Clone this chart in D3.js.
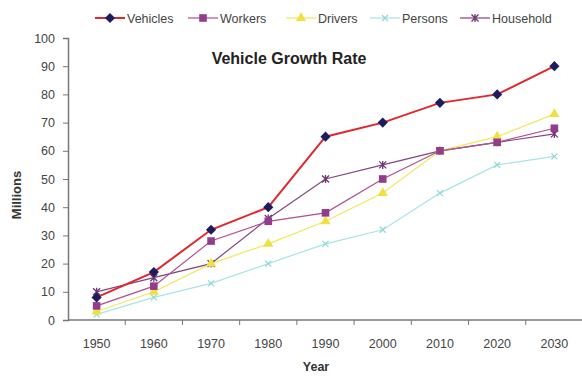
<!DOCTYPE html>
<html>
<head>
<meta charset="utf-8">
<script src="https://cdn.jsdelivr.net/npm/d3@7"></script>
<style>
  body { margin: 0; background: #fff; }
  svg text { font-family: Arial, "Liberation Sans", sans-serif; }
</style>
</head>
<body>
<svg width="582" height="376"></svg>
<script>
// data
const years = ["1950", "1960", "1970", "1980", "1990", "2000", "2010", "2020", "2030"];
const vehicles = [8, 17, 32, 40, 65, 70, 77, 80, 90];
const workers = [5, 12, 28, 35, 38, 50, 60, 63, 68];
const drivers = [3, 10, 20, 27, 35, 45, 60, 65, 73];
const persons = [2, 8, 13, 20, 27, 32, 45, 55, 58];
const household = [10, 15, 20, 36, 50, 55, 60, 63, 66];
const yTicks = [0, 10, 20, 30, 40, 50, 60, 70, 80, 90, 100];

const series = [
  {name: "Vehicles", values: vehicles, line: "#e2262e", mark: "#1c1c5e", shape: "diamond", width: 2},
  {name: "Workers", values: workers, line: "#b0508e", mark: "#943c8c", shape: "square", width: 1.2},
  {name: "Drivers", values: drivers, line: "#f2e85a", mark: "#f0e040", shape: "triangle", width: 1.2},
  {name: "Persons", values: persons, line: "#a8e4e6", mark: "#8fd6da", shape: "cross", width: 1.2},
  {name: "Household", values: household, line: "#83447e", mark: "#6e3470", shape: "star", width: 1.2}
];

const svg = d3.select("svg");
const margin = {top: 38, right: 0, bottom: 56, left: 68};
const width = +svg.attr("width") - margin.left - margin.right;
const height = +svg.attr("height") - margin.top - margin.bottom;
const g = svg.append("g").attr("transform", `translate(${margin.left},${margin.top})`);

const x = d3.scaleBand().domain(years).range([0, 515]);
const y = d3.scaleLinear().domain([0, 100]).range([height, 0]);

// x axis with ticks between categories
const xAxis = g.append("g").attr("transform", `translate(0,${height})`);
xAxis.append("line").attr("x1", 0).attr("x2", width).attr("stroke", "#777").attr("stroke-width", 1.5);
xAxis.selectAll(".tk").data(years.slice(1)).enter().append("line")
  .attr("x1", d => x(d)).attr("x2", d => x(d)).attr("y1", 0).attr("y2", 5)
  .attr("stroke", "#777");
xAxis.selectAll(".lb").data(years).enter().append("text")
  .attr("x", d => x(d) + x.bandwidth() / 2).attr("y", 28)
  .attr("text-anchor", "middle").attr("font-size", 12.5).attr("fill", "#444")
  .text(d => d);

// y axis
const yAxis = g.append("g")
  .call(d3.axisLeft(y).tickValues(yTicks).tickSize(5).tickPadding(8));
yAxis.select(".domain").attr("stroke", "#777").attr("stroke-width", 1.5);
yAxis.selectAll(".tick line").attr("stroke", "#777");
yAxis.selectAll(".tick text").attr("font-size", 12.5).attr("fill", "#444")
  .style("font-family", "Arial, 'Liberation Sans', sans-serif");

// axis titles
svg.append("text").attr("transform", "translate(21,195) rotate(-90)")
  .attr("text-anchor", "middle").attr("font-size", 13).attr("font-weight", "bold").attr("fill", "#333")
  .text("Millions");
svg.append("text").attr("x", 316).attr("y", 371)
  .attr("text-anchor", "middle").attr("font-size", 12.5).attr("font-weight", "bold").attr("fill", "#333")
  .text("Year");

// chart title
svg.append("text").attr("x", 289).attr("y", 64)
  .attr("text-anchor", "middle").attr("font-size", 16).attr("font-weight", "bold").attr("fill", "#222")
  .text("Vehicle Growth Rate");

const cx = (d, i) => x(years[i]) + x.bandwidth() / 2;

function marker(sel, s) {
  if (s.shape === "diamond") {
    sel.append("rect").attr("x", -3.6).attr("y", -3.6).attr("width", 7.2).attr("height", 7.2)
      .attr("transform", "rotate(45)").attr("fill", s.mark);
  } else if (s.shape === "square") {
    sel.append("rect").attr("x", -3.8).attr("y", -3.8).attr("width", 7.6).attr("height", 7.6).attr("fill", s.mark);
  } else if (s.shape === "triangle") {
    sel.append("path").attr("d", d3.symbol(d3.symbolTriangle, 45)()).attr("fill", s.mark);
  } else if (s.shape === "cross") {
    sel.append("path").attr("d", "M-3,-3L3,3M-3,3L3,-3").attr("stroke", s.mark).attr("stroke-width", 1.2);
  } else {
    sel.append("path").attr("d", "M-3.5,-3.5L3.5,3.5M-3.5,3.5L3.5,-3.5M0,-4L0,4")
      .attr("stroke", s.mark).attr("stroke-width", 1.3);
  }
}

const line = d3.line().x(cx).y(d => y(d));

// draw back to front so vehicles sit on top
series.slice().reverse().forEach(s => {
  g.append("path").datum(s.values)
    .attr("fill", "none").attr("stroke", s.line).attr("stroke-width", s.width)
    .attr("d", line);
  g.selectAll(null).data(s.values).enter().append("g")
    .attr("transform", (d, i) => `translate(${cx(d, i)},${y(d)})`)
    .each(function() { marker(d3.select(this), s); });
});

// legend
const legendX = [95, 188, 286, 370, 460];
const legend = svg.append("g").attr("transform", "translate(0,18)");
series.forEach((s, i) => {
  const it = legend.append("g").attr("transform", `translate(${legendX[i]},0)`);
  it.append("line").attr("x1", 0).attr("x2", 30).attr("stroke", s.line).attr("stroke-width", s.width);
  marker(it.append("g").attr("transform", "translate(15,0)"), s);
  it.append("text").attr("x", 32).attr("y", 4.5).attr("font-size", 12.5).attr("fill", "#444").text(s.name);
});
</script>
</body>
</html>
